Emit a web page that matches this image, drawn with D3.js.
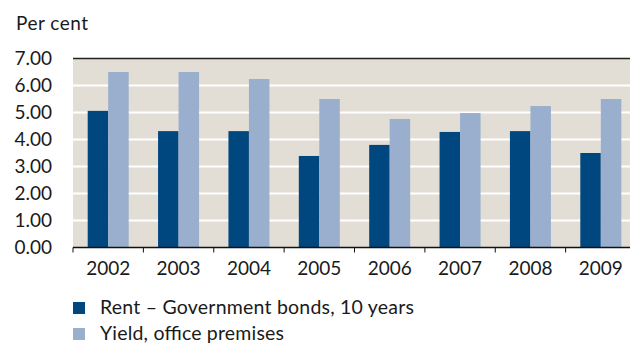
<!DOCTYPE html>
<html><head><meta charset="utf-8">
<script src="https://cdn.jsdelivr.net/npm/d3@7"></script>
<style>body{margin:0;background:#fff}svg{display:block}text{font-family:Lato,"Open Sans",sans-serif;fill:#1a1a1a}</style>
</head><body>
<svg id="c" width="630" height="343"></svg>
<script>
const years = ["2002","2003","2004","2005","2006","2007","2008","2009"];
const rent = [5.06, 4.31, 4.31, 3.39, 3.80, 4.28, 4.31, 3.50];
const yieldOffice = [6.50, 6.50, 6.24, 5.50, 4.76, 4.98, 5.24, 5.50];
const seriesNames = ["Rent \u2013 Government bonds, 10 years", "Yield, office premises"];
const colors = ["#00467f", "#9aafce"];
const yTicks = [0,1,2,3,4,5,6,7];

const svg = d3.select("#c");
const pL = 73, pR = 636, pT = 58.5, pB = 247.5;
const x = d3.scaleBand().domain(years).range([pL, pR]).paddingInner(0).paddingOuter(0);
const y = d3.scaleLinear().domain([0,7]).range([pB, pT]);

svg.append("rect").attr("x", pL).attr("y", pT).attr("width", pR-pL).attr("height", pB-pT).attr("fill", "#e2ded6");
svg.append("g").selectAll("line").data(yTicks.filter(d=>d>0&&d<7)).join("line")
  .attr("x1", pL).attr("x2", pR).attr("y1", d=>y(d)).attr("y2", d=>y(d))
  .attr("stroke", "#fff").attr("stroke-width", 2);
svg.append("line").attr("x1", pL).attr("x2", pR).attr("y1", pT).attr("y2", pT).attr("stroke", "#222").attr("stroke-width", 1.5);

const barW = 20.5;
const data = years.map((yr,i)=>({yr, v:[rent[i], yieldOffice[i]]}));
const g = svg.append("g");
data.forEach(d=>{
  const cx = x(d.yr) + x.bandwidth()/2;
  d.v.forEach((v,k)=>{
    g.append("rect").attr("x", cx - barW + k*barW).attr("y", y(v)).attr("width", barW).attr("height", y(0)-y(v)).attr("fill", colors[k]);
  });
});

// x axis
svg.append("line").attr("x1", pL).attr("x2", pR).attr("y1", pB).attr("y2", pB).attr("stroke", "#111").attr("stroke-width", 1.5);
svg.append("g").selectAll("line").data(years).join("line")
  .attr("x1", d=>x(d)).attr("x2", d=>x(d)).attr("y1", pB).attr("y2", pB+5).attr("stroke", "#111").attr("stroke-width", 1);
svg.append("g").selectAll("text").data(years).join("text")
  .attr("x", d=>x(d)+x.bandwidth()/2).attr("y", 274.5).attr("text-anchor", "middle")
  .style("font-size", "19px").text(d=>d);

// y labels
svg.append("g").selectAll("text").data(yTicks).join("text")
  .attr("x", 52).attr("y", d=>y(d)).attr("dy", "0.36em").attr("text-anchor", "end")
  .style("font-size", "19px").text(d=>d3.format(".2f")(d));

svg.append("text").attr("x", 16).attr("y", 30).style("font-size", "19px").attr("textLength", 72).text("Per cent");

// legend
const lg = svg.append("g");
const legLen = [314, 184];
seriesNames.forEach((n,i)=>{
  const yy = 302 + i*26;
  lg.append("rect").attr("x", 73).attr("y", yy).attr("width", 12).attr("height", 12).attr("fill", colors[i]);
  lg.append("text").attr("x", 100).attr("y", yy+12).style("font-size", "19.5px").attr("textLength", legLen[i]).text(n);
});
</script>
</body></html>
